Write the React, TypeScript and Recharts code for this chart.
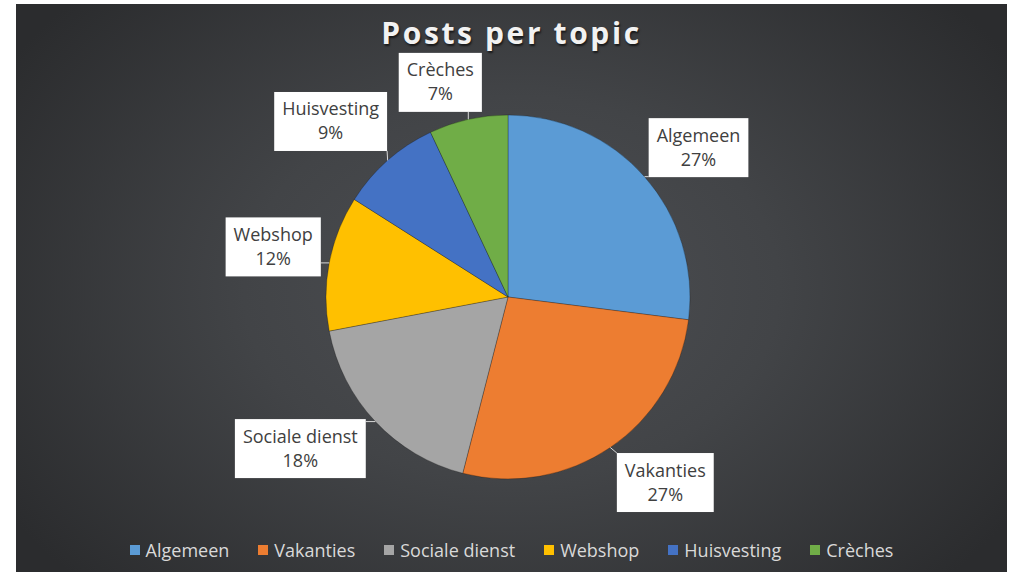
import { PieChart, Pie, Cell, Legend } from 'recharts';

// Chart data
const TOPICS = ['Algemeen', 'Vakanties', 'Sociale dienst', 'Webshop', 'Huisvesting', 'Crèches'];
const POST_SHARE = [27, 27, 18, 12, 9, 7];
const SLICE_COLORS = ['#5B9BD5', '#ED7D31', '#A5A5A5', '#FFC000', '#4472C4', '#70AD47'];

// Label box offsets (from slice's outer mid point), as placed in the original
const LABEL_OFFSETS: Array<[number, number]> = [
  [54, -29],
  [55, 35],
  [-75, 27],
  [-56, -16],
  [-57, -39],
  [-28, -37],
];

const data = TOPICS.map((name, i) => ({ name, value: POST_SHARE[i] }));

const FONT = '"Open Sans", "Noto Sans", sans-serif';
const LABEL_SIZE = 18;
const RAD = Math.PI / 180;

let ctx: CanvasRenderingContext2D | null = null;
function textWidth(s: string): number {
  if (!ctx) ctx = document.createElement('canvas').getContext('2d');
  if (!ctx) return s.length * 8;
  ctx.font = `${LABEL_SIZE}px "Open Sans"`;
  return ctx.measureText(s).width;
}

function renderLabel(props: any) {
  const { cx, cy, midAngle, outerRadius, percent, name, index } = props;
  const ex = cx + outerRadius * Math.cos(-midAngle * RAD);
  const ey = cy + outerRadius * Math.sin(-midAngle * RAD);
  const [dx, dy] = LABEL_OFFSETS[index];
  const bx = ex + dx;
  const by = ey + dy;
  const pct = `${Math.round(percent * 100)}%`;
  const w = Math.max(textWidth(name), textWidth(pct)) + 16;
  const h = 59;
  // nearest point on box to the slice edge
  const px = Math.min(Math.max(ex, bx - w / 2), bx + w / 2);
  const py = Math.min(Math.max(ey, by - h / 2), by + h / 2);
  return (
    <g key={`lbl-${index}`}>
      <line x1={ex} y1={ey} x2={px} y2={py} stroke="#d9d9d9" strokeWidth={1} />
      <rect x={bx - w / 2} y={by - h / 2} width={w} height={h} fill="#ffffff" />
      <text
        x={bx}
        y={by - 6}
        textAnchor="middle"
        fill="#404040"
        fontSize={LABEL_SIZE}
        fontFamily={FONT}
      >
        {name}
      </text>
      <text
        x={bx}
        y={by + 18}
        textAnchor="middle"
        fill="#404040"
        fontSize={LABEL_SIZE}
        fontFamily={FONT}
      >
        {pct}
      </text>
    </g>
  );
}

function LegendContent() {
  return (
    <div
      style={{
        display: 'flex',
        justifyContent: 'center',
        gap: 29,
        fontFamily: FONT,
        fontSize: 18,
        color: '#d9d9d9',
      }}
    >
      {TOPICS.map((t, i) => (
        <div key={t} style={{ display: 'flex', alignItems: 'center' }}>
          <span
            style={{
              width: 10,
              height: 10,
              background: SLICE_COLORS[i],
              marginRight: 6,
              display: 'inline-block',
            }}
          />
          <span>{t}</span>
        </div>
      ))}
    </div>
  );
}

export default function App() {
  return (
    <div
      style={{
        position: 'absolute',
        left: 16,
        top: 4,
        width: 991,
        height: 568,
        background:
          'radial-gradient(ellipse 60% 75% at 50% 50%, #4d4f53 0%, #424447 45%, #2b2c2e 100%)',
      }}
    >
      <div
        style={{
          position: 'absolute',
          top: 8,
          width: '100%',
          textAlign: 'center',
          fontFamily: FONT,
          fontWeight: 700,
          fontSize: 30,
          letterSpacing: 2.6,
          color: '#f2f2f2',
          textShadow: '1px 2px 2px rgba(0,0,0,0.6)',
        }}
      >
        Posts per topic
      </div>
      <PieChart width={991} height={568} margin={{ top: 0, right: 0, bottom: 0, left: 0 }}>
        <Pie
          data={data}
          dataKey="value"
          nameKey="name"
          cx={492}
          cy={293}
          outerRadius={182}
          startAngle={90}
          endAngle={-270}
          stroke="rgba(0,0,0,0.25)"
          strokeWidth={1}
          label={renderLabel}
          labelLine={false}
          isAnimationActive={false}
        >
          {data.map((d, i) => (
            <Cell key={d.name} fill={SLICE_COLORS[i]} />
          ))}
        </Pie>
        <Legend
          verticalAlign="bottom"
          content={<LegendContent />}
          wrapperStyle={{ bottom: 10, left: 0, width: 991 }}
        />
      </PieChart>
    </div>
  );
}
